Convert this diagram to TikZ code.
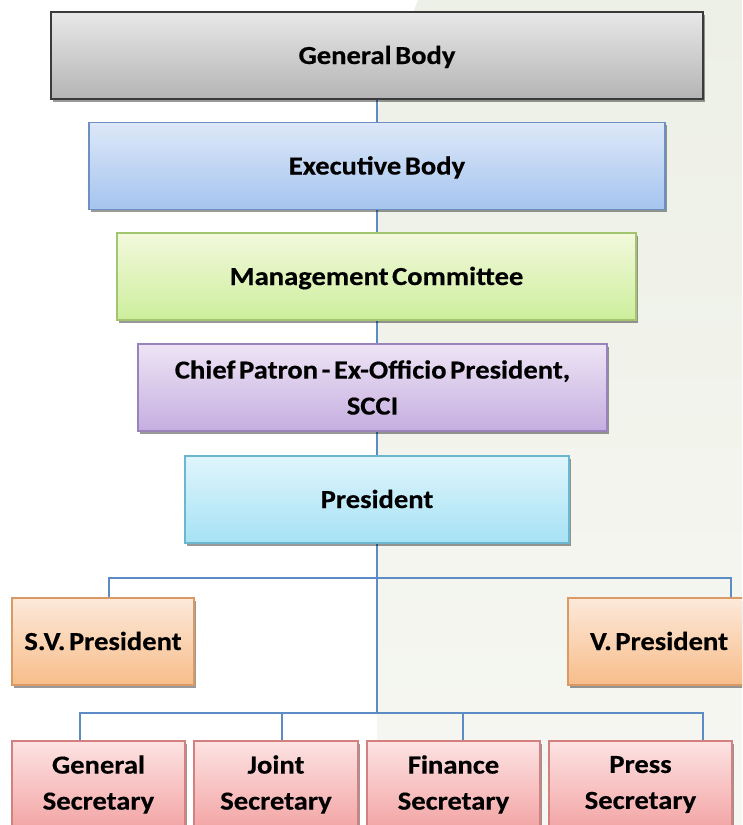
\documentclass[tikz,border=0pt]{standalone}
\usepackage{fontspec}
\setmainfont{Carlito}[FakeStretch=1.1, WordSpace=0.55, BoldFeatures={FakeBold=0.4}]
\usetikzlibrary{shadows}
\pgfdeclarelayer{bg}
\pgfdeclarelayer{lines}
\pgfsetlayers{bg,lines,main}
\definecolor{gbtop}{HTML}{E8E8E8}\definecolor{gbbot}{HTML}{B4B4B4}\definecolor{gbdraw}{HTML}{3A3A3A}
\definecolor{ebtop}{HTML}{DDE8F8}\definecolor{ebbot}{HTML}{A5C4EF}\definecolor{ebdraw}{HTML}{6D8FC2}
\definecolor{mctop}{HTML}{F2F9DC}\definecolor{mcbot}{HTML}{CDEE9C}\definecolor{mcdraw}{HTML}{A3C56F}
\definecolor{cptop}{HTML}{EEE4F5}\definecolor{cpbot}{HTML}{C5AEE0}\definecolor{cpdraw}{HTML}{9A82BB}
\definecolor{prtop}{HTML}{DFF5FC}\definecolor{prbot}{HTML}{A6E2F5}\definecolor{prdraw}{HTML}{6CB6CF}
\definecolor{svtop}{HTML}{FDE9DA}\definecolor{svbot}{HTML}{F7BD8A}\definecolor{svdraw}{HTML}{D99A66}
\definecolor{sctop}{HTML}{FDE3E3}\definecolor{scbot}{HTML}{F3A5A5}\definecolor{scdraw}{HTML}{D48080}
\definecolor{linkblue}{HTML}{5D8BC6}
\definecolor{bgtop}{HTML}{EDF0E6}\definecolor{bgbot}{HTML}{F6F7F2}
\begin{document}
\begin{tikzpicture}[x=1pt,y=-1pt,
  orgbox/.style={rectangle, line width=1.1pt, inner sep=0pt, minimum height=87pt,
    align=center, font=\bfseries\fontsize{26}{36}\selectfont, text=black,
    drop shadow={shadow xshift=1.5pt, shadow yshift=-2.5pt, opacity=0.4, fill=black}},
  oneline/.style={text height=17pt, text depth=0pt},
  conn/.style={draw=linkblue, line width=1.3pt}]
\useasboundingbox (0,0) rectangle (742,825);
\clip (0,0) rectangle (742,825);
\begin{pgfonlayer}{bg}
\fill[white] (0,0) rectangle (742,825);
\shade[top color=bgtop, bottom color=bgbot] (418,0) -- (742,0) -- (742,825) -- (377,825) -- (377,110) -- cycle;
\end{pgfonlayer}

\node[orgbox, oneline, minimum width=652pt, top color=gbtop, bottom color=gbbot, draw=gbdraw, line width=1.5pt] (gb) at (377,55.5) {General Body};
\node[orgbox, oneline, minimum width=576pt, top color=ebtop, bottom color=ebbot, draw=ebdraw] (eb) at (377,166) {Executive Body};
\node[orgbox, oneline, minimum width=519pt, top color=mctop, bottom color=mcbot, draw=mcdraw] (mc) at (376.5,276.5) {Management Committee};
\node[orgbox, minimum width=469pt, top color=cptop, bottom color=cpbot, draw=cpdraw] (cp) at (372.5,387.5) {Chief Patron - Ex-Officio President,\\SCCI};
\node[orgbox, oneline, minimum width=384pt, top color=prtop, bottom color=prbot, draw=prdraw] (pr) at (377,499.5) {President};
\node[orgbox, oneline, minimum width=182pt, top color=svtop, bottom color=svbot, draw=svdraw] (sv) at (103,641.5) {S.V. President};
\node[orgbox, oneline, minimum width=182pt, top color=svtop, bottom color=svbot, draw=svdraw] (vp) at (659,641.5) {V. President};
\node[orgbox, minimum width=173pt, top color=sctop, bottom color=scbot, draw=scdraw] (gs) at (98.5,784.5) {General\\Secretary};
\node[orgbox, minimum width=164pt, top color=sctop, bottom color=scbot, draw=scdraw] (js) at (276,784.5) {Joint\\Secretary};
\node[orgbox, minimum width=173pt, top color=sctop, bottom color=scbot, draw=scdraw] (fs) at (453.5,784.5) {Finance\\Secretary};
\node[orgbox, minimum width=183pt, top color=sctop, bottom color=scbot, draw=scdraw] (ps) at (640.5,784.5) {Press\\Secretary};

\coordinate (l1) at (109,578);
\coordinate (r1) at (731,578);
\coordinate (b1) at (80,713);
\coordinate (b2) at (282,713);
\coordinate (b3) at (463,713);
\coordinate (b4) at (703,713);
\begin{pgfonlayer}{lines}
\draw[conn] (gb.south) -- (gb.south |- b1);
\draw[conn] (l1 |- sv.north) -- (l1) -- (r1) -- (r1 |- vp.north);
\draw[conn] (b1 |- gs.north) -- (b1) -- (b4) -- (b4 |- ps.north);
\draw[conn] (b2) -- (b2 |- js.north);
\draw[conn] (b3) -- (b3 |- fs.north);
\end{pgfonlayer}
\end{tikzpicture}
\end{document}
